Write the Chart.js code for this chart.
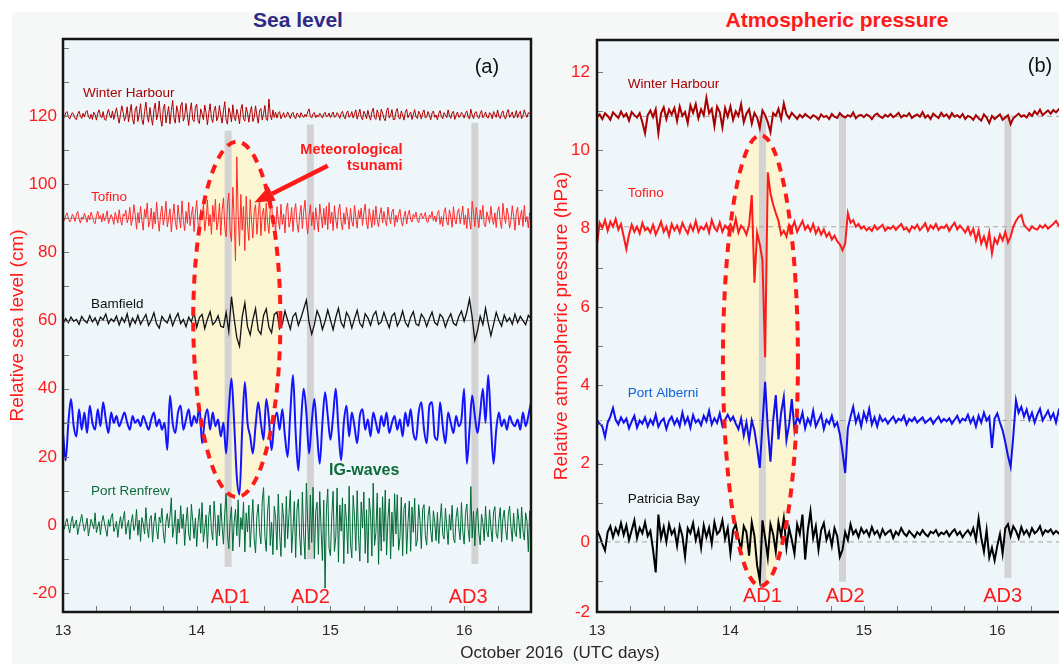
<!DOCTYPE html>
<html>
<head>
<meta charset="utf-8">
<script src="https://cdn.jsdelivr.net/npm/chart.js@4.4.1/dist/chart.umd.min.js"></script>
<style>
  html, body { margin:0; padding:0; width:1059px; height:664px; overflow:hidden; background:#fff;
               font-family:'Liberation Sans', Arial, sans-serif; }
  #sheet { position:absolute; left:12px; top:12px; right:0; bottom:0; background:#f6f7f7; }
  canvas { position:absolute; top:0; }
  #left  { left:0; }
  #right { left:540px; }
  .head { position:absolute; top:8px; height:24px; line-height:24px; font-weight:bold; font-size:21px; text-align:center; white-space:nowrap; }
  #xtitle { position:absolute; left:0; width:1120px; top:643px; line-height:20px; font-size:17px; color:#262626; text-align:center; white-space:pre; }
</style>
</head>
<body>
<div id="sheet"></div>
<div class="head" style="left:178px;width:240px;color:#2e2a86">Sea level</div>
<div class="head" style="left:697px;width:280px;color:#ff1a1a">Atmospheric pressure</div>
<canvas id="left" width="540" height="664"></canvas>
<canvas id="right" width="530" height="664"></canvas>
<div id="xtitle">October 2016  (UTC days)</div>
<script>
// sample times, UTC days of October 2016 (coarse records)
const days = [
  13.00,13.02,13.04,13.06,13.08,13.10,13.12,13.14,13.16,13.18,
  13.20,13.22,13.24,13.26,13.28,13.30,13.32,13.34,13.36,13.38,
  13.40,13.42,13.44,13.46,13.48,13.50,13.52,13.54,13.56,13.58,
  13.60,13.62,13.64,13.66,13.68,13.70,13.72,13.74,13.76,13.78,
  13.80,13.82,13.84,13.86,13.88,13.90,13.92,13.94,13.96,13.98,
  14.00,14.02,14.04,14.06,14.08,14.10,14.12,14.14,14.16,14.18,
  14.20,14.22,14.24,14.26,14.28,14.30,14.32,14.34,14.36,14.38,
  14.40,14.42,14.44,14.46,14.48,14.50,14.52,14.54,14.56,14.58,
  14.60,14.62,14.64,14.66,14.68,14.70,14.72,14.74,14.76,14.78,
  14.80,14.82,14.84,14.86,14.88,14.90,14.92,14.94,14.96,14.98,
  15.00,15.02,15.04,15.06,15.08,15.10,15.12,15.14,15.16,15.18,
  15.20,15.22,15.24,15.26,15.28,15.30,15.32,15.34,15.36,15.38,
  15.40,15.42,15.44,15.46,15.48,15.50,15.52,15.54,15.56,15.58,
  15.60,15.62,15.64,15.66,15.68,15.70,15.72,15.74,15.76,15.78,
  15.80,15.82,15.84,15.86,15.88,15.90,15.92,15.94,15.96,15.98,
  16.00,16.02,16.04,16.06,16.08,16.10,16.12,16.14,16.16,16.18,
  16.20,16.22,16.24,16.26,16.28,16.30,16.32,16.34,16.36,16.38,
  16.40,16.42,16.44,16.46,16.48,16.50
];
// denser sampling for the high-frequency sea level records
const daysFine = [
  13.00,13.01,13.02,13.03,13.04,13.05,13.06,13.07,13.08,13.09,
  13.10,13.11,13.12,13.13,13.14,13.15,13.16,13.17,13.18,13.19,
  13.20,13.21,13.22,13.23,13.24,13.25,13.26,13.27,13.28,13.29,
  13.30,13.31,13.32,13.33,13.34,13.35,13.36,13.37,13.38,13.39,
  13.40,13.41,13.42,13.43,13.44,13.45,13.46,13.47,13.48,13.49,
  13.50,13.51,13.52,13.53,13.54,13.55,13.56,13.57,13.58,13.59,
  13.60,13.61,13.62,13.63,13.64,13.65,13.66,13.67,13.68,13.69,
  13.70,13.71,13.72,13.73,13.74,13.75,13.76,13.77,13.78,13.79,
  13.80,13.81,13.82,13.83,13.84,13.85,13.86,13.87,13.88,13.89,
  13.90,13.91,13.92,13.93,13.94,13.95,13.96,13.97,13.98,13.99,
  14.00,14.01,14.02,14.03,14.04,14.05,14.06,14.07,14.08,14.09,
  14.10,14.11,14.12,14.13,14.14,14.15,14.16,14.17,14.18,14.19,
  14.20,14.21,14.22,14.23,14.24,14.25,14.26,14.27,14.28,14.29,
  14.30,14.31,14.32,14.33,14.34,14.35,14.36,14.37,14.38,14.39,
  14.40,14.41,14.42,14.43,14.44,14.45,14.46,14.47,14.48,14.49,
  14.50,14.51,14.52,14.53,14.54,14.55,14.56,14.57,14.58,14.59,
  14.60,14.61,14.62,14.63,14.64,14.65,14.66,14.67,14.68,14.69,
  14.70,14.71,14.72,14.73,14.74,14.75,14.76,14.77,14.78,14.79,
  14.80,14.81,14.82,14.83,14.84,14.85,14.86,14.87,14.88,14.89,
  14.90,14.91,14.92,14.93,14.94,14.95,14.96,14.97,14.98,14.99,
  15.00,15.01,15.02,15.03,15.04,15.05,15.06,15.07,15.08,15.09,
  15.10,15.11,15.12,15.13,15.14,15.15,15.16,15.17,15.18,15.19,
  15.20,15.21,15.22,15.23,15.24,15.25,15.26,15.27,15.28,15.29,
  15.30,15.31,15.32,15.33,15.34,15.35,15.36,15.37,15.38,15.39,
  15.40,15.41,15.42,15.43,15.44,15.45,15.46,15.47,15.48,15.49,
  15.50,15.51,15.52,15.53,15.54,15.55,15.56,15.57,15.58,15.59,
  15.60,15.61,15.62,15.63,15.64,15.65,15.66,15.67,15.68,15.69,
  15.70,15.71,15.72,15.73,15.74,15.75,15.76,15.77,15.78,15.79,
  15.80,15.81,15.82,15.83,15.84,15.85,15.86,15.87,15.88,15.89,
  15.90,15.91,15.92,15.93,15.94,15.95,15.96,15.97,15.98,15.99,
  16.00,16.01,16.02,16.03,16.04,16.05,16.06,16.07,16.08,16.09,
  16.10,16.11,16.12,16.13,16.14,16.15,16.16,16.17,16.18,16.19,
  16.20,16.21,16.22,16.23,16.24,16.25,16.26,16.27,16.28,16.29,
  16.30,16.31,16.32,16.33,16.34,16.35,16.36,16.37,16.38,16.39,
  16.40,16.41,16.42,16.43,16.44,16.45,16.46,16.47,16.48,16.49,
  16.50
];

// ---- (a) sea level, cm (each record offset for display)
const seaWinter = [
  120.4,119.6,120.9,121.3,119.8,119.1,120.2,121.0,120.3,119.4,
  118.9,120.6,121.4,120.1,119.3,120.8,119.7,121.2,121.6,119.9,
  119.2,120.5,119.0,121.1,120.4,118.8,120.9,121.8,120.0,119.5,
  121.3,119.1,118.7,120.6,122.0,120.2,119.4,121.5,119.0,120.8,
  122.4,119.8,117.9,120.5,123.0,121.1,118.6,119.9,122.7,118.3,
  120.9,123.4,119.2,117.6,121.8,122.9,118.4,120.6,123.6,119.0,
  117.5,121.3,124.1,120.0,118.2,122.5,119.6,117.3,121.9,123.8,
  118.9,120.7,124.4,119.1,117.0,122.2,123.5,118.0,120.4,122.8,
  117.7,121.6,124.6,119.4,117.9,123.0,121.2,118.1,122.9,124.0,
  118.5,119.9,123.7,120.3,117.2,121.4,123.9,119.0,118.4,122.6,
  123.5,118.7,117.8,122.1,120.6,118.9,123.2,121.0,117.4,120.8,
  123.6,119.3,118.1,121.7,122.9,118.6,119.8,123.1,120.2,117.9,
  121.5,124.2,118.8,117.6,122.4,121.0,118.3,123.3,119.7,118.6,
  122.0,120.4,117.7,121.9,123.4,119.2,118.5,122.6,120.9,118.2,
  121.2,122.8,118.4,119.6,123.0,120.1,117.9,121.6,122.2,118.8,
  120.7,123.1,119.0,118.7,125.0,120.5,118.9,121.8,119.6,121.1,
  119.4,120.8,121.3,119.2,120.1,121.0,119.5,119.9,121.2,120.3,
  119.3,120.6,121.1,119.7,119.2,120.9,120.4,119.5,121.0,120.2,
  119.6,120.5,119.8,121.2,122.1,119.9,119.4,120.7,121.0,119.5,
  120.3,119.7,120.8,120.2,119.4,120.6,121.1,119.8,120.0,120.9,
  119.5,120.4,121.2,119.6,119.9,121.0,120.3,119.3,120.7,121.4,
  119.8,119.2,120.9,121.5,119.6,120.2,121.3,119.4,120.6,121.8,
  119.1,120.5,122.0,119.7,118.9,121.4,120.6,119.2,121.7,120.0,
  118.8,121.2,122.3,119.5,119.0,121.8,120.4,118.7,122.0,120.9,
  119.3,118.6,121.6,122.4,119.4,120.1,121.9,119.0,118.9,121.3,
  122.2,119.6,119.1,121.5,120.3,118.8,121.1,122.0,119.5,120.4,
  121.2,119.0,120.5,121.9,119.7,119.3,121.4,120.6,119.1,121.0,
  121.8,119.4,119.8,121.3,120.2,118.9,120.9,121.5,119.6,120.3,
  118.9,120.7,121.6,119.8,119.2,121.0,120.4,119.5,121.8,120.1,
  119.3,120.9,121.4,119.0,120.2,121.2,119.6,119.9,121.1,120.5,
  119.4,120.8,121.5,119.7,119.1,122.0,120.3,119.2,120.9,121.3,
  119.8,119.3,120.7,121.6,119.5,120.1,121.2,119.7,119.4,121.0,
  120.6,119.2,121.3,120.4,119.6,121.8,119.9,119.3,120.8,121.5,
  119.7,119.1,121.0,121.9,119.6,120.3,121.2,119.4,120.0,121.6,
  119.5,120.7,121.4,119.2,120.1,121.8,120.5,119.6,121.0,120.8,
  120.2
];
const seaTofino = [
  90.3,89.4,90.8,91.6,90.1,88.9,89.6,91.2,90.5,89.1,
  91.0,92.0,89.8,88.6,90.4,89.7,91.5,90.2,88.8,90.9,
  89.5,91.8,90.6,89.0,88.4,90.7,92.1,89.9,90.8,88.9,
  91.4,89.2,90.3,92.2,88.5,89.8,91.1,90.0,88.2,91.7,
  90.4,88.6,92.5,89.6,88.0,91.3,90.6,92.4,88.7,90.1,
  93.2,87.9,89.8,94.0,90.9,86.8,91.7,88.6,93.5,89.4,
  86.5,92.6,90.2,94.5,87.4,89.1,93.0,86.9,91.9,88.3,
  94.8,89.7,86.2,91.4,93.6,88.0,90.6,95.0,87.5,89.9,
  92.8,86.0,90.4,94.2,88.8,86.7,93.9,90.1,87.2,95.1,
  89.3,86.4,92.0,88.5,94.7,87.8,90.9,93.4,86.1,91.6,
  95.2,88.4,85.7,92.6,90.0,94.1,86.3,89.6,95.4,87.7,
  91.1,85.3,93.8,89.0,95.6,86.6,88.9,94.4,85.0,92.3,
  96.0,87.4,84.6,94.2,97.4,86.1,83.2,99.1,90.0,77.5,
  108.0,91.0,82.0,97.0,86.5,93.5,80.5,96.5,88.0,83.5,
  95.5,89.2,84.2,92.1,94.0,85.3,90.6,96.2,84.9,91.0,
  93.0,86.2,94.5,88.7,85.6,92.8,95.0,87.4,90.4,85.5,
  93.4,89.6,86.8,94.1,88.2,91.2,85.7,92.7,94.5,87.4,
  89.1,93.2,86.1,91.9,94.3,88.5,85.9,90.8,93.8,87.0,
  92.0,95.3,88.8,85.4,90.6,94.0,87.8,91.9,86.6,93.1,
  89.4,86.0,94.2,90.9,87.2,92.9,88.1,93.5,86.7,94.6,
  88.5,91.8,86.4,93.7,89.6,87.0,92.2,94.1,88.9,86.6,
  91.6,88.2,93.2,90.5,86.8,92.9,89.1,87.6,93.8,90.3,
  87.1,92.4,89.9,93.0,87.9,91.7,94.2,88.6,86.9,92.8,
  90.2,87.3,92.5,88.0,93.6,89.5,87.5,91.4,93.1,88.6,
  92.0,89.3,87.8,93.3,90.4,88.4,91.9,92.7,87.6,90.9,
  88.8,91.3,92.6,89.2,87.7,90.6,92.1,88.3,91.0,92.4,
  89.6,88.9,91.2,90.3,91.8,89.4,88.7,90.9,91.5,89.9,
  90.6,91.7,89.1,88.8,91.0,90.2,92.0,89.3,90.7,88.9,
  91.4,92.3,88.2,90.5,87.6,91.9,93.1,89.0,88.0,92.5,
  90.4,87.4,93.4,89.6,88.3,91.8,92.8,88.4,90.9,93.6,
  88.1,91.0,87.0,92.9,89.4,86.8,95.0,91.6,87.6,93.2,
  90.2,87.2,92.5,89.7,93.8,88.0,87.5,91.9,90.4,88.6,
  93.5,89.8,88.2,91.6,87.3,92.1,93.4,89.1,87.0,94.4,
  90.7,88.5,93.0,91.2,87.1,89.4,93.7,90.6,86.5,91.8,
  93.2,88.0,90.4,92.4,87.6,93.8,88.9,90.5,87.2,91.6,
  90.4
];
const seaBamfield = [
  59.0,60.6,59.4,61.0,59.8,60.3,58.9,61.2,60.0,59.3,
  61.4,59.6,60.8,58.8,61.0,60.2,61.9,59.1,60.5,59.7,
  61.3,58.7,60.9,59.5,62.0,58.4,60.7,59.2,61.5,58.9,
  60.4,61.8,58.6,60.1,62.3,59.0,57.8,61.2,60.0,59.3,
  61.6,58.5,60.6,62.1,59.1,60.3,58.2,61.0,59.6,62.4,
  58.0,60.9,61.8,57.6,60.4,62.6,58.8,59.7,61.4,58.3,
  58.0,62.4,56.8,67.0,60.5,55.0,52.5,61.0,65.2,58.2,
  55.8,60.3,63.5,57.2,56.0,61.5,63.4,58.0,56.4,61.8,
  62.5,57.6,58.9,62.8,60.1,57.5,61.2,62.2,58.6,60.8,
  63.4,66.0,59.5,56.0,58.8,62.9,61.0,57.4,59.8,63.1,
  60.2,57.3,60.9,63.6,59.4,58.0,62.4,61.0,57.8,60.5,
  63.0,59.2,58.1,62.0,60.8,58.6,61.5,62.7,58.9,59.6,
  62.4,60.0,57.9,61.3,62.2,58.4,60.1,62.8,59.5,58.2,
  61.0,62.6,59.0,58.5,61.9,60.7,58.3,60.6,62.5,59.4,
  58.7,61.8,60.9,58.1,60.4,62.0,59.2,58.6,61.2,62.8,
  59.8,62.5,66.3,61.0,54.2,57.0,61.3,58.8,63.6,59.2,
  55.6,58.9,62.4,60.0,58.4,61.6,59.7,60.8,58.9,61.9,
  59.4,61.2,60.0,58.8,61.5,60.6
];
const seaBlue = [
  27,19,30,37,29,26,34,28,33,27,
  35,30,28,34,29,36,31,27,33,30,
  32,29,31,33,30,28,32,30,31,29,
  32,30,28,31,33,29,31,28,30,22,
  38,30,27,33,35,28,31,34,29,32,
  30,35,24,31,34,28,33,29,31,26,
  30,21,34,43,30,14,9,28,42,30,
  26,21,29,36,30,25,37,31,22,30,
  33,28,34,26,20,33,44,27,16,30,
  40,33,21,30,37,27,18,30,39,32,
  25,32,40,28,19,30,35,26,33,29,
  24,32,34,28,31,26,33,30,27,32,
  29,33,27,30,32,28,31,26,33,29,
  34,27,25,33,36,28,24,35,36,26,
  25,36,29,24,33,30,27,32,29,31,
  40,18,28,38,32,27,33,40,30,44,
  30,18,28,33,29,31,28,32,30,29,
  31,28,33,29,32,36
];
const seaRenfrew = [
  0.6,-1.2,0.8,1.9,-0.4,-2.3,0.7,2.6,-0.9,0.3,
  1.5,-2.8,-0.6,1.2,3.1,0.4,-1.8,-0.2,2.0,-3.2,
  -0.8,1.7,0.3,-1.1,3.6,-2.2,-0.5,1.0,-2.9,0.9,
  2.8,0.6,-1.4,-3.3,1.6,-0.4,2.4,3.4,-1.9,-0.7,
  1.1,-3.6,0.2,2.5,-1.0,1.8,4.0,-2.7,-0.3,1.4,
  -4.2,0.8,3.1,-1.6,-0.2,4.6,-3.0,1.5,-4.8,2.2,
  0.4,-2.6,5.1,-0.9,-3.7,1.9,2.8,-5.0,0.6,3.6,
  -1.4,-4.1,2.3,0.7,4.9,-2.1,-5.3,1.2,3.4,-0.8,
  2.6,8.0,-3.6,-0.5,4.4,-5.6,1.8,-2.3,5.7,-1.0,
  3.2,-6.0,0.9,5.2,-2.8,-4.5,6.1,1.3,-3.9,2.1,
  -6.3,0.7,4.8,-2.4,6.6,-5.0,-1.1,3.0,-6.8,2.5,
  5.9,-1.6,-4.4,7.0,0.8,-6.1,2.9,-3.2,6.3,-0.4,
  -5.6,3.8,9.3,-2.7,-6.9,1.5,5.4,-7.6,0.9,4.6,
  -3.1,7.4,-6.4,2.2,-1.3,6.8,-7.9,3.6,-2.0,5.8,
  -6.5,0.4,7.5,-4.2,-8.2,2.7,6.1,-1.9,-5.5,7.0,
  11.0,-3.4,-7.7,4.1,8.6,-6.0,0.8,-8.7,5.5,2.3,
  -7.3,9.1,-2.5,-9.2,6.4,1.7,-6.6,8.4,-4.0,3.0,
  10.2,-8.1,-1.4,6.9,-9.5,4.8,7.6,-3.3,-8.9,9.7,
  -2.9,-10.0,12.3,0.5,-7.2,8.8,-5.1,11.1,-9.8,3.9,
  6.7,-8.6,9.8,-1.2,-10.4,7.3,-18.5,4.4,10.6,-6.8,
  -9.0,2.6,9.9,-7.7,-3.5,10.9,-10.9,5.9,-1.8,8.0,
  -11.3,6.2,1.1,-8.4,11.4,-5.5,-9.6,8.7,2.4,-7.5,
  10.1,-3.0,-10.6,6.8,-0.9,9.7,-8.3,4.5,-11.1,7.9,
  3.3,-9.1,12.3,-6.0,-2.2,9.4,-11.5,5.1,-7.6,8.3,
  -4.8,10.3,-8.8,1.9,7.7,-9.9,3.8,-6.3,9.2,-2.6,
  8.9,-7.4,-3.7,8.2,-9.0,4.9,6.4,-8.5,0.6,7.1,
  -7.7,5.3,-2.1,7.9,-6.2,-4.4,6.0,1.4,-6.9,4.7,
  6.0,-3.1,-5.9,2.6,5.5,-1.7,-5.0,4.2,0.9,-4.6,
  3.7,-5.4,1.2,6.3,-2.8,-4.1,4.9,-0.6,-5.7,3.1,
  -1.5,5.8,-3.9,-5.2,2.3,5.1,-0.8,-4.3,6.6,-2.0,
  -5.6,3.4,6.2,-1.3,-4.9,11.3,-3.8,4.0,-6.1,2.7,
  5.0,-2.4,-5.8,3.2,0.7,-4.6,5.6,-1.9,-3.5,4.5,
  -0.8,-4.9,3.9,5.4,-2.6,-3.9,1.6,5.1,-5.0,2.0,
  4.4,-1.3,-4.3,2.9,5.5,-0.5,-4.8,3.5,-2.1,-3.4,
  4.8,0.9,-3.9,5.3,-1.8,-4.4,3.6,1.2,-7.8,4.2,
  2.6
];

// ---- (b) atmospheric pressure, hPa (offset)
const presWinter = [
  10.85,10.92,10.80,10.95,10.88,10.78,10.97,10.90,10.83,10.99,
  10.86,10.94,10.76,10.98,10.90,10.84,10.95,10.72,10.44,10.90,
  11.02,10.85,11.05,10.44,10.95,11.10,10.80,11.04,10.92,11.08,
  10.75,11.12,10.88,10.98,10.70,11.15,10.96,11.18,10.82,11.05,
  10.90,11.34,10.95,11.06,10.62,11.12,10.98,10.59,11.08,10.86,
  11.12,10.78,11.00,10.88,11.18,10.72,10.94,11.05,10.68,10.96,
  10.84,10.57,11.02,10.90,10.72,10.47,10.95,10.88,11.06,10.80,
  11.20,10.92,10.82,10.96,10.88,10.80,10.91,10.84,10.93,10.87,
  10.82,10.90,10.86,10.79,10.92,10.85,10.88,10.80,10.93,10.86,
  10.83,10.95,10.88,10.84,10.90,10.86,10.97,10.82,10.89,10.91,
  10.85,10.92,10.88,10.80,10.90,10.94,10.87,10.83,10.91,10.86,
  10.93,10.85,10.89,10.96,10.84,10.90,10.87,10.95,10.83,10.88,
  10.92,10.86,10.98,10.84,10.90,10.80,10.94,10.88,10.83,10.96,
  10.87,10.92,10.82,10.95,10.86,10.90,10.84,10.93,10.80,10.88,
  10.85,10.78,10.90,10.82,10.76,10.92,10.84,10.70,10.88,10.80,
  10.86,10.92,10.78,10.84,10.90,10.67,10.82,10.88,10.94,10.86,
  10.90,10.84,10.95,10.88,11.00,10.92,11.04,10.90,10.96,11.02,
  10.94,11.03,10.97,11.05,10.99,11.01
];
const presTofino = [
  7.60,8.15,8.02,8.22,7.95,8.18,8.05,8.25,7.98,8.12,
  7.80,7.48,7.85,8.10,7.92,8.05,7.88,8.15,7.96,8.02,
  7.90,8.10,7.85,8.00,8.18,7.92,8.05,7.82,8.12,7.96,
  8.08,7.90,8.15,8.00,7.88,8.10,7.95,8.20,7.92,8.05,
  7.98,8.12,7.90,8.22,8.02,7.94,8.16,7.92,8.08,8.00,
  8.12,7.95,8.25,7.90,8.08,8.00,7.85,8.10,8.86,6.62,
  7.90,7.60,7.20,4.72,9.44,8.90,8.62,8.40,8.20,7.85,
  7.95,7.80,8.10,8.00,8.18,7.92,8.06,8.20,7.98,8.08,
  7.94,8.12,7.88,8.02,7.85,7.98,7.80,7.90,7.72,7.82,
  7.68,7.60,7.45,7.62,8.40,8.15,8.22,8.05,8.12,8.00,
  8.06,7.96,8.02,7.94,8.08,7.98,8.04,8.10,7.95,8.03,
  8.00,8.07,7.97,8.05,8.12,7.98,8.02,7.92,8.06,8.00,
  8.10,7.96,8.04,8.14,7.95,8.08,8.00,8.12,7.97,8.05,
  8.02,8.10,7.94,8.06,8.15,7.98,8.08,8.00,7.90,8.04,
  7.85,8.00,7.70,7.95,7.62,7.80,7.55,7.90,7.37,7.75,
  7.62,7.85,7.70,7.92,7.65,7.80,8.05,8.20,8.30,8.35,
  8.10,8.02,7.95,8.06,8.00,7.98,8.08,8.02,8.10,8.00,
  8.06,8.12,8.20,8.08,8.12,8.04
];
const presAlberni = [
  3.10,3.02,2.95,2.68,3.05,3.20,3.42,3.12,3.00,3.18,
  3.05,3.15,2.90,3.08,3.22,2.92,3.10,3.02,3.18,2.95,
  3.12,3.00,3.25,2.94,3.08,3.15,2.88,3.10,3.20,3.00,
  3.14,2.96,3.30,3.02,3.18,2.92,3.24,3.05,3.12,2.98,
  3.22,3.08,3.35,3.00,3.16,3.04,3.28,2.96,3.12,3.25,
  3.10,3.20,3.02,2.88,3.15,2.72,3.05,2.60,3.10,2.85,
  2.40,1.89,3.00,4.09,2.90,2.05,3.10,3.75,2.62,3.30,
  3.70,2.60,3.00,3.65,2.85,3.20,3.05,3.30,2.90,3.15,
  3.00,3.35,2.95,3.10,3.25,2.88,3.12,3.02,3.22,2.95,
  3.05,2.75,2.30,1.76,2.90,3.20,3.45,3.05,3.25,2.95,
  3.30,3.10,3.40,3.00,3.18,2.95,3.22,3.08,3.15,3.02,
  3.12,3.20,3.05,3.15,3.10,3.22,3.00,3.14,3.08,3.18,
  3.05,3.12,3.18,3.04,3.10,3.16,3.02,3.12,3.20,3.06,
  3.14,3.08,3.16,3.02,3.12,3.22,3.05,3.15,3.10,3.25,
  3.04,3.18,2.95,3.22,3.05,3.30,3.10,3.20,2.40,3.15,
  3.28,3.05,2.85,2.55,2.20,1.92,2.70,3.62,3.30,3.45,
  3.20,3.38,3.12,3.30,3.05,3.25,3.40,3.10,3.22,3.35,
  3.15,3.28,3.05,3.35,3.20,3.10
];
const presPatricia = [
  0.30,0.15,-0.05,-0.22,0.25,0.40,0.12,0.35,0.20,0.48,
  0.18,0.42,0.05,0.30,0.55,0.10,0.36,0.22,0.50,0.15,
  0.28,-0.20,-0.78,0.70,0.10,0.38,0.00,0.45,0.20,0.32,
  -0.10,0.40,0.15,-0.38,0.35,0.22,0.48,0.05,0.30,-0.15,
  0.42,0.12,0.36,-0.05,0.50,0.20,0.28,0.55,0.08,0.35,
  -0.30,0.30,0.45,0.10,-0.20,0.40,0.25,-0.35,0.50,0.15,
  -0.60,-0.98,0.55,0.10,-0.40,0.45,0.20,-0.25,0.50,0.15,
  0.60,-0.15,0.35,0.05,-0.30,0.45,0.20,0.70,-0.45,0.30,
  0.78,0.10,0.40,-0.20,0.30,0.48,0.05,0.25,-0.10,0.35,
  0.15,-0.38,-0.20,0.25,0.05,0.45,0.20,0.30,0.12,0.35,
  0.22,0.30,0.15,0.38,0.20,0.28,0.12,0.32,0.18,0.25,
  0.30,0.10,0.26,0.18,0.35,0.22,0.15,0.28,0.20,0.12,
  0.25,0.18,0.30,0.20,0.14,0.26,0.22,0.30,0.16,0.24,
  0.20,0.28,0.15,0.25,0.32,0.18,0.26,0.12,0.22,0.30,
  0.18,0.35,0.05,0.60,0.10,-0.25,0.30,-0.40,-0.15,-0.47,
  -0.10,0.20,-0.30,0.35,0.45,0.15,0.40,0.28,0.10,0.38,
  0.20,0.30,0.15,0.35,0.22,0.28,0.40,0.18,0.30,0.25,
  0.32,0.20,0.28,0.22,0.30,0.18
];

// offsets (baselines) of each record
const seaBase  = [120, 90, 60, 30, 0];
const presBase = [10.87, 8.05, 3.1, 0];

// AD1..AD3 events: day, top and bottom of the grey bars
const adNames     = ['AD1', 'AD2', 'AD3'];
const seaAdDay    = [14.235, 14.85, 16.08];
const seaAdTop    = [115.7, 117.5, 118.0];
const seaAdBottom = [-12.3, -10.0, -11.4];
const presAdDay    = [14.24, 14.84, 16.08];
const presAdTop    = [10.87, 10.87, 10.87];
const presAdBottom = [-1.10, -1.02, -0.92];

// axis ticks
const dayTicks    = [13, 14, 15, 16];
const dayMinor    = [13.25, 13.5, 13.75, 14, 14.25, 14.5, 14.75, 15, 15.25, 15.5, 15.75, 16, 16.25];
const seaTicks    = [-20, 0, 20, 40, 60, 80, 100, 120];
const seaMinor    = [-20, -10, 0, 10, 20, 30, 40, 50, 60, 70, 80, 90, 100, 110, 120, 130, 140];
const presTicks   = [-1.79, 0, 2, 4, 6, 8, 10, 12];
const presTickTxt = ['-2', '0', '2', '4', '6', '8', '10', '12'];
const presMinor   = [-1, 0, 1, 2, 3, 4, 5, 6, 7, 8, 9, 10, 11, 12];

const RED = '#ff1a1a', DARKRED = '#a80000', GREEN = '#0b6b3a';
const f = (size, bold) => (bold ? 'bold ' : '') + size + "px 'Liberation Sans', Arial, sans-serif";

const decor = {
  left: {
    mark: { cx: 14.30, cy: 60.35, rx: 0.326, ry: 52.15 },
    arrow: { x0: 14.98, y0: 105.4, x1: 14.43, y1: 94.6 },
    xTicks: dayMinor, yTicks: seaMinor,
    labels: [
      { text: 'Winter Harbour', x: 13.15, y: 126.8, color: DARKRED, font: f(13.5) },
      { text: '(a)', x: 16.17, y: 134.2, color: '#111', font: f(20), align: 'center' },
      { text: 'Tofino', x: 13.21, y: 96.3, color: RED, font: f(13.5) },
      { text: 'Meteorological', x: 15.54, y: 110.1, color: RED, font: f(14.5, true), align: 'right' },
      { text: 'tsunami', x: 15.54, y: 105.2, color: RED, font: f(14.5, true), align: 'right' },
      { text: 'Bamfield', x: 13.21, y: 64.8, color: '#111', font: f(13.5) },
      { text: 'IG-waves', x: 14.99, y: 16.1, color: GREEN, font: f(16, true) },
      { text: 'Port Renfrew', x: 13.21, y: 10.0, color: GREEN, font: f(13.5) },
      { text: adNames[0], x: 14.25, y: -21.1, color: RED, font: f(20), align: 'center' },
      { text: adNames[1], x: 14.85, y: -21.1, color: RED, font: f(20), align: 'center' },
      { text: adNames[2], x: 16.03, y: -21.1, color: RED, font: f(20), align: 'center' }
    ]
  },
  right: {
    mark: { cx: 14.225, cy: 4.63, rx: 0.281, ry: 5.76 },
    arrow: null,
    xTicks: dayMinor, yTicks: presMinor,
    labels: [
      { text: 'Winter Harbour', x: 13.23, y: 11.69, color: DARKRED, font: f(13.5) },
      { text: '(b)', x: 16.32, y: 12.15, color: '#111', font: f(20), align: 'center' },
      { text: 'Tofino', x: 13.23, y: 8.91, color: RED, font: f(13.5) },
      { text: 'Port Alberni', x: 13.23, y: 3.80, color: '#1060d8', font: f(13.5) },
      { text: 'Patricia Bay', x: 13.23, y: 1.10, color: '#111', font: f(13.5) },
      { text: adNames[0], x: 14.24, y: -1.40, color: RED, font: f(20), align: 'center' },
      { text: adNames[1], x: 14.86, y: -1.40, color: RED, font: f(20), align: 'center' },
      { text: adNames[2], x: 16.04, y: -1.40, color: RED, font: f(20), align: 'center' }
    ]
  }
};

function ellipsePath(chart, m) {
  const { ctx, scales: { x, y } } = chart;
  const cx = x.getPixelForValue(m.cx), cy = y.getPixelForValue(m.cy);
  const rx = Math.abs(x.getPixelForValue(m.cx + m.rx) - cx);
  const ry = Math.abs(y.getPixelForValue(m.cy + m.ry) - cy);
  ctx.beginPath();
  ctx.ellipse(cx, cy, rx, ry, 0, 0, Math.PI * 2);
}

const decorPlugin = {
  id: 'decor',
  beforeDatasetsDraw(chart) {
    const d = decor[chart.canvas.id];
    const { ctx, chartArea: a } = chart;
    ctx.save();
    ctx.fillStyle = '#eff6fa';
    ctx.fillRect(a.left, a.top, a.right - a.left, a.bottom - a.top);
    ellipsePath(chart, d.mark);
    ctx.fillStyle = '#fbf5d2';
    ctx.fill();
    ctx.restore();
  },
  afterDatasetsDraw(chart) {
    const d = decor[chart.canvas.id];
    const { ctx, chartArea: a, scales: { x, y } } = chart;
    ctx.save();
    ellipsePath(chart, d.mark);
    ctx.setLineDash([9, 7]);
    ctx.lineWidth = 4;
    ctx.strokeStyle = RED;
    ctx.stroke();
    ctx.setLineDash([]);

    // tick marks point into the plot
    ctx.strokeStyle = '#7a7a7a';
    ctx.lineWidth = 1;
    d.xTicks.forEach(v => {
      const px = Math.round(x.getPixelForValue(v)) + 0.5;
      ctx.beginPath(); ctx.moveTo(px, a.bottom); ctx.lineTo(px, a.bottom - 6); ctx.stroke();
    });
    d.yTicks.forEach(v => {
      const py = Math.round(y.getPixelForValue(v)) + 0.5;
      ctx.beginPath(); ctx.moveTo(a.left, py); ctx.lineTo(a.left + 6, py); ctx.stroke();
    });

    ctx.strokeStyle = '#151515';
    ctx.lineWidth = 2.5;
    ctx.strokeRect(a.left, a.top, a.right - a.left, a.bottom - a.top);

    if (d.arrow) {
      const ar = d.arrow;
      const tx = x.getPixelForValue(ar.x0), ty = y.getPixelForValue(ar.y0);
      const hx = x.getPixelForValue(ar.x1), hy = y.getPixelForValue(ar.y1);
      const ang = Math.atan2(hy - ty, hx - tx);
      const L = 20, W = 8;
      const bx = hx - L * Math.cos(ang), by = hy - L * Math.sin(ang);
      ctx.strokeStyle = RED; ctx.fillStyle = RED; ctx.lineWidth = 4.5;
      ctx.beginPath(); ctx.moveTo(tx, ty); ctx.lineTo(bx, by); ctx.stroke();
      ctx.beginPath();
      ctx.moveTo(hx, hy);
      ctx.lineTo(bx + W * Math.sin(ang), by - W * Math.cos(ang));
      ctx.lineTo(bx - W * Math.sin(ang), by + W * Math.cos(ang));
      ctx.closePath(); ctx.fill();
    }

    ctx.textBaseline = 'middle';
    d.labels.forEach(l => {
      ctx.font = l.font;
      ctx.fillStyle = l.color;
      ctx.textAlign = l.align || 'left';
      ctx.fillText(l.text, x.getPixelForValue(l.x), y.getPixelForValue(l.y));
    });
    ctx.restore();
  }
};

// pair a record with its own sample times
const onGrid = (grid, vals) => vals.map((v, i) => ({ x: grid[i], y: v }));

function trace(label, vals, color, width, extra) {
  return Object.assign({ label, data: vals, borderColor: color, borderWidth: width,
    pointRadius: 0, fill: false, tension: 0, order: 1 }, extra || {});
}
function adBars(dayArr, top, bottom) {
  return dayArr.map((d, i) => ({ label: adNames[i], data: [{ x: d, y: top[i] }, { x: d, y: bottom[i] }],
    borderColor: '#d3d3d3', borderWidth: 7, borderCapStyle: 'butt', pointRadius: 0, order: 20 }));
}
function baseLines(levels, dash) {
  return levels.map(v => ({ label: 'base', data: [{ x: 13, y: v }, { x: 16.5, y: v }],
    borderColor: '#a4a4a4', borderWidth: 1, borderDash: dash, pointRadius: 0, order: 15 }));
}

function panelOptions(o) {
  return {
    responsive: false, animation: false, devicePixelRatio: 1,
    layout: { padding: { top: o.top, right: o.right, left: 0, bottom: 0 } },
    plugins: { legend: { display: false }, tooltip: { enabled: false } },
    scales: {
      x: {
        type: 'linear', min: 13, max: 16.5,
        afterBuildTicks: s => { s.ticks = dayTicks.map(v => ({ value: v })); },
        afterFit: s => { s.height = 52; },
        grid: { display: false, drawTicks: false }, border: { display: false },
        ticks: { autoSkip: false, maxRotation: 0, padding: 10, color: '#2a2a2a',
                 font: { size: 15, family: "'Liberation Sans', Arial, sans-serif" } }
      },
      y: {
        type: 'linear', min: o.ymin, max: o.ymax,
        afterBuildTicks: s => { s.ticks = o.ticks.map(v => ({ value: v })); },
        afterFit: s => { s.width = o.yw; },
        grid: { display: false, drawTicks: false }, border: { display: false },
        ticks: { autoSkip: false, padding: o.tpad, color: RED, callback: o.cb,
                 font: { size: 17, family: "'Liberation Sans', Arial, sans-serif" } },
        title: { display: true, text: o.ytitle, color: RED, padding: { top: o.titlePad },
                 font: { size: 19, family: "'Liberation Sans', Arial, sans-serif" } }
      }
    }
  };
}

new Chart(document.getElementById('left'), {
  type: 'line',
  data: {
    labels: days,
    datasets: [
      trace('Winter Harbour', onGrid(daysFine, seaWinter), '#b00000', 1),
      trace('Tofino', onGrid(daysFine, seaTofino), '#ff2a2a', 1),
      trace('Bamfield', seaBamfield, '#111111', 1.3),
      trace('', seaBlue, '#1414ff', 2, { cubicInterpolationMode: 'monotone' }),
      trace('Port Renfrew', onGrid(daysFine, seaRenfrew), '#006a35', 1),
      ...baseLines(seaBase, []),
      ...adBars(seaAdDay, seaAdTop, seaAdBottom)
    ]
  },
  options: panelOptions({ top: 39, right: 9, ymin: -25.5, ymax: 142.6, ticks: seaTicks, yw: 63, tpad: 6,
    cb: v => v, ytitle: 'Relative sea level (cm)', titlePad: 6 }),
  plugins: [decorPlugin]
});

new Chart(document.getElementById('right'), {
  type: 'line',
  data: {
    labels: days,
    datasets: [
      trace('Winter Harbour', presWinter, '#a80000', 2),
      trace('Tofino', presTofino, '#ff1a1a', 2),
      trace('Port Alberni', presAlberni, '#1010ee', 2),
      trace('Patricia Bay', presPatricia, '#000000', 2),
      ...baseLines(presBase, [5, 4]),
      ...adBars(presAdDay, presAdTop, presAdBottom)
    ]
  },
  options: panelOptions({ top: 40, right: 6, ymin: -1.79, ymax: 12.82, ticks: presTicks, yw: 57, tpad: 7,
    cb: (v, i) => presTickTxt[i], ytitle: 'Relative atmospheric pressure (hPa)', titlePad: 10 }),
  plugins: [decorPlugin]
});
</script>
</body>
</html>
